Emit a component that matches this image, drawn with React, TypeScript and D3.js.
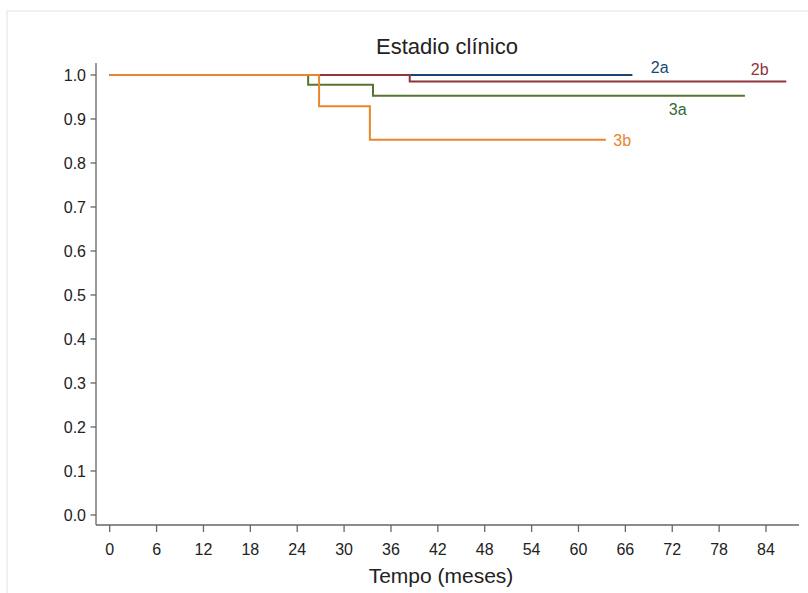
import React from "react";
import * as d3 from "d3";

const seriesNames = ["2a", "2b", "3a", "3b"];
const times2a = [0, 66.9];
const surv2a = [1, 1];
const times2b = [0, 38.4, 86.6];
const surv2b = [1, 0.985, 0.985];
const times3a = [0, 25.4, 33.7, 81.3];
const surv3a = [1, 0.978, 0.953, 0.953];
const times3b = [0, 26.8, 33.3, 63.5];
const surv3b = [1, 0.929, 0.853, 0.853];
const labelT = [70.4, 83.2, 72.7, 65.6];
const labelV = [1.017, 1.0136, 0.923, 0.852];
const xTicks = [0, 6, 12, 18, 24, 30, 36, 42, 48, 54, 60, 66, 72, 78, 84];
const yTicks = [0, 0.1, 0.2, 0.3, 0.4, 0.5, 0.6, 0.7, 0.8, 0.9, 1.0];
const colors = ["#1a476f", "#90353b", "#55752f", "#e8862b"];
const labelColors = ["#1a476f", "#90353b", "#2f6b3a", "#e8862b"];

export default function App() {
  const W = 808, H = 593;
  const x = d3.scaleLinear().domain([0, 84]).range([109.7, 766]);
  const y = d3.scaleLinear().domain([0, 1]).range([515, 75]);
  const allT = [times2a, times2b, times3a, times3b];
  const allS = [surv2a, surv2b, surv3a, surv3b];
  const line = d3
    .line<[number, number]>()
    .x((d) => x(d[0]))
    .y((d) => y(d[1]))
    .curve(d3.curveStepAfter);
  const font = "'Liberation Sans', Arial, sans-serif";
  const axisColor = "#666";
  const axisY = 525;
  const axisX = 96;
  return (
    <svg
      width={W}
      height={H}
      style={{ position: "absolute", left: 0, top: 0, background: "#fff" }}
      fontFamily={font}
    >
      <rect x={7} y={11} width={W} height={H} fill="#fff" stroke="#e6eef0" strokeWidth={1.5} />
      <text x={447} y={54} textAnchor="middle" fontSize={22} fill="#222">
        Estadio clínico
      </text>
      {/* axes */}
      <line x1={axisX} x2={axisX} y1={63} y2={axisY} stroke={axisColor} strokeWidth={1.3} />
      <line x1={axisX} x2={799} y1={axisY} y2={axisY} stroke={axisColor} strokeWidth={1.3} />
      {yTicks.map((v) => (
        <g key={"y" + v}>
          <line x1={axisX - 5.5} x2={axisX} y1={y(v)} y2={y(v)} stroke={axisColor} strokeWidth={1.3} />
          <text x={86} y={y(v)} dy="0.36em" textAnchor="end" fontSize={16} fill="#222">
            {v.toFixed(1)}
          </text>
        </g>
      ))}
      {xTicks.map((t) => (
        <g key={"x" + t}>
          <line x1={x(t)} x2={x(t)} y1={axisY} y2={axisY + 7} stroke={axisColor} strokeWidth={1.3} />
          <text x={x(t)} y={555} textAnchor="middle" fontSize={16} fill="#222">
            {t}
          </text>
        </g>
      ))}
      <text x={441} y={583} textAnchor="middle" fontSize={21} fill="#222">
        Tempo (meses)
      </text>
      {seriesNames.map((name, i) => {
        const pts = allT[i].map((t, j) => [t, allS[i][j]] as [number, number]);
        return (
          <path key={name} d={line(pts) || ""} fill="none" stroke={colors[i]} strokeWidth={2} />
        );
      })}
      {seriesNames.map((name, i) => (
        <text
          key={"l" + name}
          x={x(labelT[i])}
          y={y(labelV[i])}
          dy="0.36em"
          textAnchor="middle"
          fontSize={16}
          fill={labelColors[i]}
        >
          {name}
        </text>
      ))}
    </svg>
  );
}
